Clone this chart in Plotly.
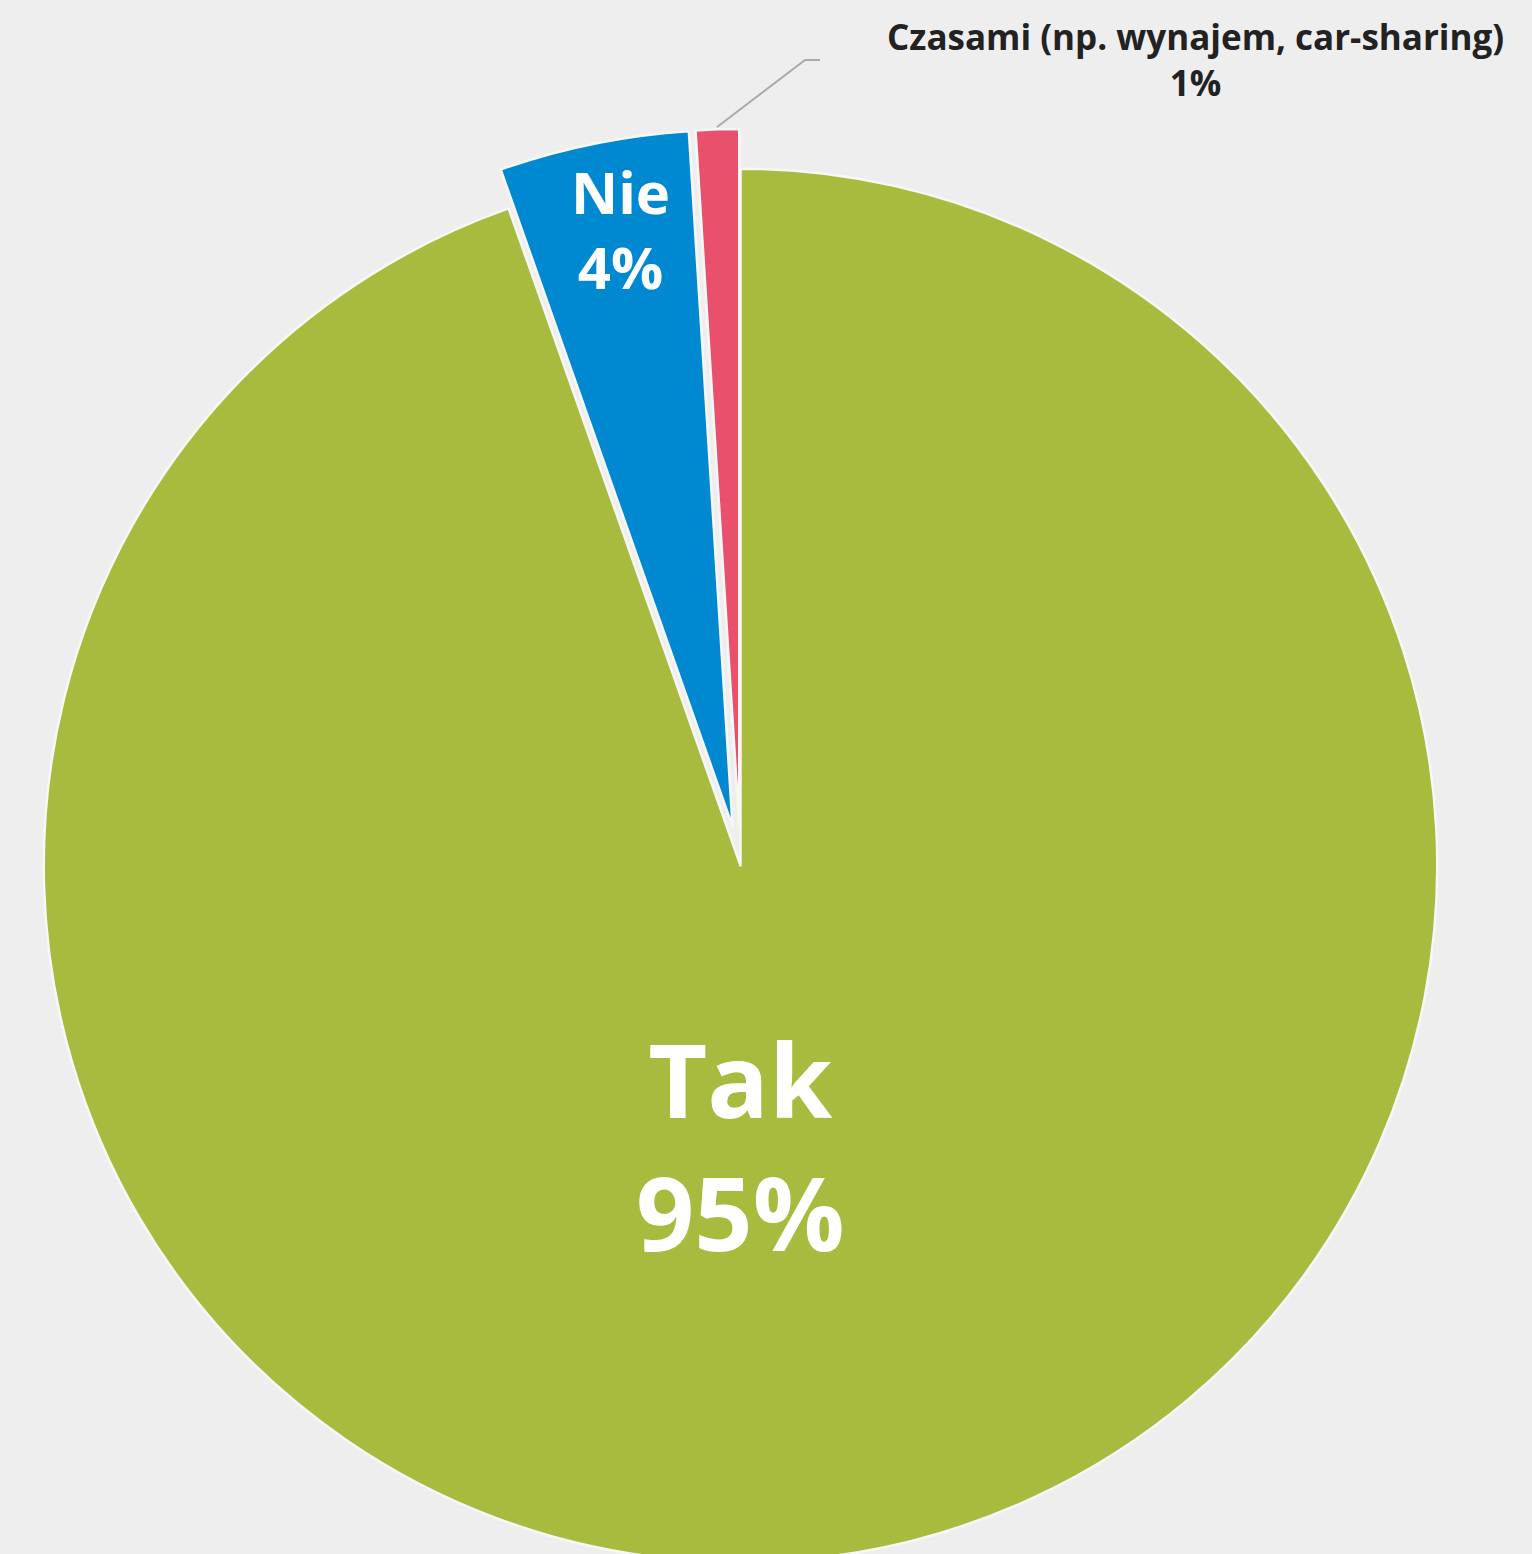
import plotly.graph_objects as go

# Czy posiadasz samochód? - odpowiedzi
labels = ["Tak", "Nie", "Czasami (np. wynajem, car-sharing)"]
values = [94.6, 4.4, 1.0]
shown_pct = ["95%", "4%", "1%"]
colors = ["#A8BB3E", "#0089D1", "#E8506B"]
pulls = [0, 0.057, 0.057]

FONT = "Open Sans, sans-serif"

fig = go.Figure(
    go.Pie(
        labels=labels,
        values=values,
        sort=False,
        direction="clockwise",
        rotation=0,
        pull=pulls,
        marker=dict(colors=colors, line=dict(color="#F7F7F7", width=2.5)),
        # plotly shrinks / shifts its own labels here, so they are annotations below
        textinfo="none",
        showlegend=False,
        hoverinfo="label+percent",
    )
)

# label positions (paper coords) and sizes for each slice
label_x = [0.4997, 0.4182, 0.8086]
label_y = [0.31, 0.932, 1.047]
label_size = [102, 58, 35]
label_color = ["white", "white", "#222222"]

for lab, pct, x, y, size, col in zip(labels, shown_pct, label_x, label_y, label_size, label_color):
    fig.add_annotation(
        xref="paper", yref="paper", x=x, y=y,
        text="<b>%s</b><br><b>%s</b>" % (lab, pct),
        showarrow=False, font=dict(color=col, size=size, family=FONT),
        xanchor="center", yanchor="middle",
    )

# elbow leader line for the tiny slice
fig.add_shape(
    type="path", xref="paper", yref="paper",
    path="M 0.4841 1.0014 L 0.5438 1.0468 L 0.5540 1.0468",
    line=dict(color="#AAAAAA", width=2),
)

fig.update_layout(
    width=1532,
    height=1602,
    margin=dict(l=4, r=55, t=129, b=0),
    paper_bgcolor="#EEEEEE",
    font=dict(family=FONT),
)

fig.write_html(
    "out.html",
    config={"displayModeBar": False},
    post_script="document.body.style.margin='0';document.body.style.overflow='hidden';",
)
